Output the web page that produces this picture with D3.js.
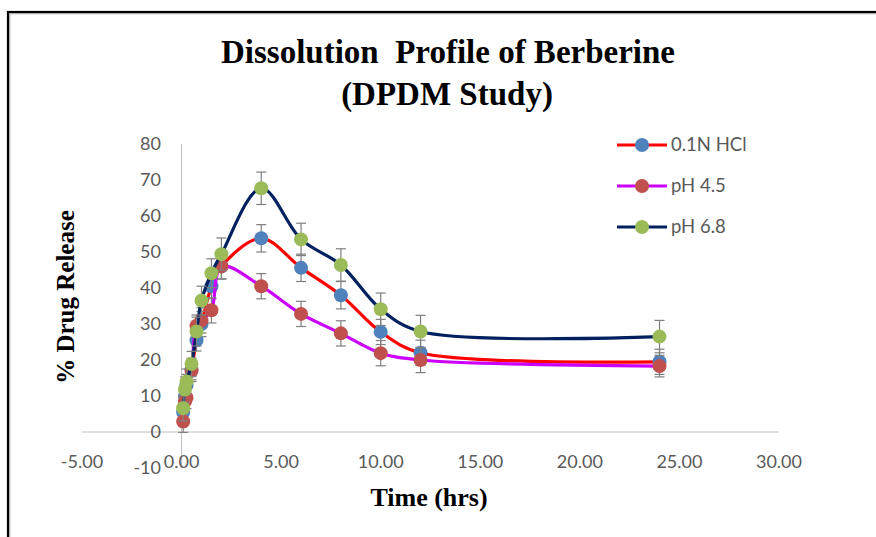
<!DOCTYPE html>
<html><head><meta charset="utf-8">
<script src="https://cdn.jsdelivr.net/npm/d3@7"></script>
<style>body{margin:0;background:#fff}svg{display:block}</style>
</head><body>
<script>
const times = [0.08, 0.17, 0.25, 0.5, 0.75, 1, 1.5, 2, 4, 6, 8, 10, 12, 24];
const hclValues = [5.5, 10, 13, 17.5, 25.5, 30, 40.5, 46, 53.8, 45.6, 38, 27.8, 22, 19.5];
const hclErrors = [3, 3, 3, 3, 3, 3.5, 3.5, 3.5, 3.8, 3.8, 3.8, 3.5, 3.5, 3.5];
const ph45Values = [2.9, 8.5, 9.5, 17, 29.5, 31, 33.8, 46, 40.5, 32.8, 27.4, 21.9, 20, 18.3];
const ph45Errors = [3, 3, 3, 3, 3, 3.5, 3.5, 3.5, 3.5, 3.5, 3.5, 3.5, 3.5, 3];
const ph68Values = [6.6, 11.8, 14, 18.9, 27.9, 36.5, 44.1, 49.4, 67.7, 53.5, 46.4, 34.1, 27.9, 26.5];
const ph68Errors = [3.5, 3.5, 3.5, 3.5, 4, 4, 4, 4.5, 4.5, 4.5, 4.5, 4.5, 4.5, 4.5];
const seriesNames = ["0.1N HCl", "pH 4.5", "pH 6.8"];
const xTicks = [-5, 0, 5, 10, 15, 20, 25, 30];
const yTicks = [-10, 0, 10, 20, 30, 40, 50, 60, 70, 80];

const lineColors = ["#ff0000", "#cc00ff", "#002060"];
const markerColors = ["#4f81bd", "#c0504d", "#9bbb59"];
const seriesVals = [hclValues, ph45Values, ph68Values];
const seriesErr = [hclErrors, ph45Errors, ph68Errors];

const W = 876, H = 537;
const svg = d3.select("body").append("svg").attr("width", W).attr("height", H);
svg.append("rect").attr("width", W).attr("height", H).attr("fill", "#fff");
// frame
svg.append("rect").attr("x", 9).attr("y", 13).attr("width", 900).attr("height", 600)
  .attr("fill", "none").attr("stroke", "#c8c8c8").attr("stroke-width", 3);
svg.append("rect").attr("x", 8).attr("y", 12).attr("width", 900).attr("height", 600)
  .attr("fill", "none").attr("stroke", "#000").attr("stroke-width", 2.2);

const x = d3.scaleLinear().domain([-5, 30]).range([82, 779]);
const y = d3.scaleLinear().domain([-10, 80]).range([468, 144]);

const labelFont = "Lato, 'Open Sans', sans-serif";
const serif = "'Liberation Serif', 'Times New Roman', serif";

// axes lines
svg.append("line").attr("x1", x(-5)).attr("x2", x(30)).attr("y1", y(0)).attr("y2", y(0))
  .attr("stroke", "#bfbfbf").attr("stroke-width", 1);
svg.append("line").attr("x1", x(0)).attr("x2", x(0)).attr("y1", y(80)).attr("y2", y(-10))
  .attr("stroke", "#bfbfbf").attr("stroke-width", 1);

// x tick labels (low position)
svg.append("g").selectAll("text").data(xTicks).join("text")
  .attr("x", d => x(d)).attr("y", 462).attr("dy", "0.35em")
  .attr("text-anchor", "middle").attr("font-family", labelFont).attr("font-size", 18)
  .attr("fill", "#595959").text(d => d.toFixed(2));
// y tick labels
svg.append("g").selectAll("text").data(yTicks).join("text")
  .attr("x", 161).attr("y", d => y(d)).attr("dy", "0.35em")
  .attr("text-anchor", "end").attr("font-family", labelFont).attr("font-size", 18)
  .attr("fill", "#595959").text(d => d);

// titles
svg.append("text").attr("x", 448).attr("y", 63).attr("text-anchor", "middle")
  .attr("font-family", serif).attr("font-weight", "bold").attr("font-size", 33)
  .attr("xml:space", "preserve").style("white-space", "pre")
  .text("Dissolution  Profile of Berberine");
svg.append("text").attr("x", 447).attr("y", 105).attr("text-anchor", "middle")
  .attr("font-family", serif).attr("font-weight", "bold").attr("font-size", 33)
  .text("(DPDM Study)");
svg.append("text").attr("x", 429).attr("y", 506).attr("text-anchor", "middle")
  .attr("font-family", serif).attr("font-weight", "bold").attr("font-size", 26)
  .text("Time (hrs)");
svg.append("text").attr("transform", "translate(74,297) rotate(-90)").attr("text-anchor", "middle")
  .attr("font-family", serif).attr("font-weight", "bold").attr("font-size", 25)
  .text("% Drug Release");

const line = d3.line().x(d => x(d[0])).y(d => y(d[1])).curve(d3.curveCatmullRom.alpha(0.5));

seriesVals.forEach((vals, s) => {
  const pts = times.map((t, i) => [t, vals[i], seriesErr[s][i]]);
  const g = svg.append("g");
  g.append("path").datum(pts).attr("d", line).attr("fill", "none")
    .attr("stroke", lineColors[s]).attr("stroke-width", 3.2).attr("stroke-linejoin", "round");
  const eb = g.append("g").attr("stroke", "#7f7f7f").attr("stroke-width", 1.2);
  pts.forEach(p => {
    const cx = x(p[0]), y1 = y(p[1] + p[2]), y2 = y(p[1] - p[2]);
    eb.append("line").attr("x1", cx).attr("x2", cx).attr("y1", y1).attr("y2", y2);
    eb.append("line").attr("x1", cx - 5).attr("x2", cx + 5).attr("y1", y1).attr("y2", y1);
    eb.append("line").attr("x1", cx - 5).attr("x2", cx + 5).attr("y1", y2).attr("y2", y2);
  });
  g.selectAll("circle").data(pts).join("circle")
    .attr("cx", d => x(d[0])).attr("cy", d => y(d[1])).attr("r", 7)
    .attr("fill", markerColors[s]);
});

// legend
const legY = [145, 186, 227];
seriesNames.forEach((n, i) => {
  const g = svg.append("g");
  g.append("line").attr("x1", 617).attr("x2", 667).attr("y1", legY[i]).attr("y2", legY[i])
    .attr("stroke", lineColors[i]).attr("stroke-width", 3.2);
  g.append("circle").attr("cx", 642).attr("cy", legY[i]).attr("r", 7).attr("fill", markerColors[i]);
  g.append("text").attr("x", 671).attr("y", legY[i]).attr("dy", "0.35em")
    .attr("font-family", labelFont).attr("font-size", 18.5).attr("fill", "#595959").text(n);
});
</script>
</body></html>
